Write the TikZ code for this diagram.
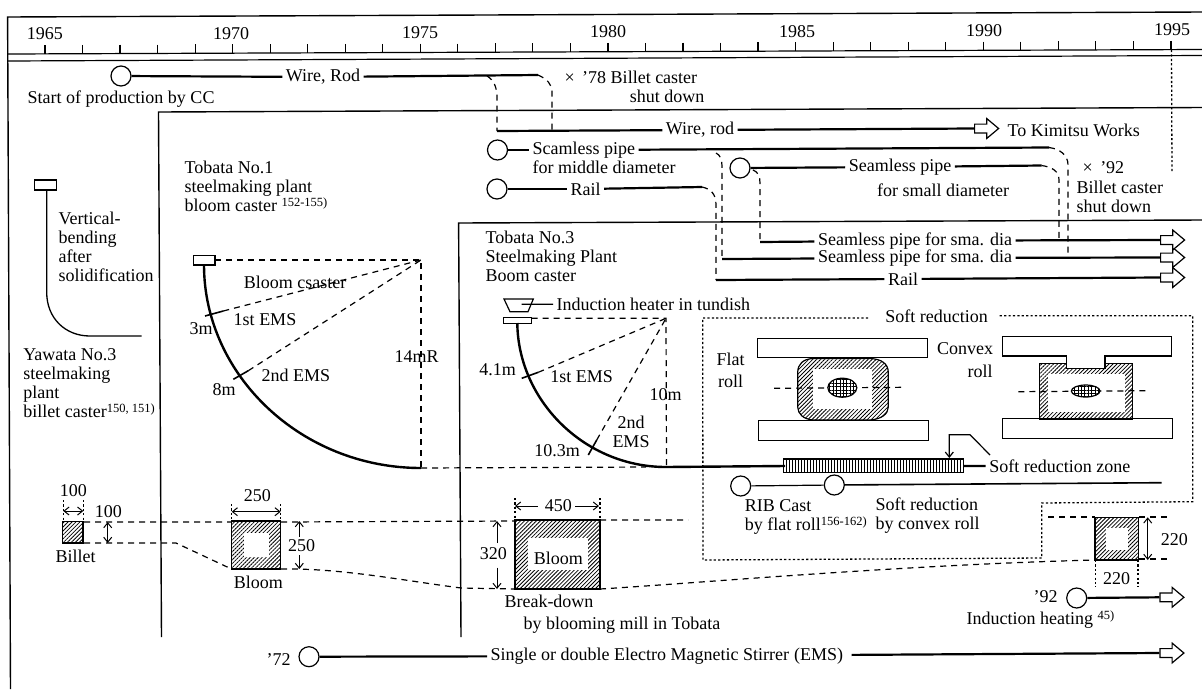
\documentclass[tikz,border=0pt]{standalone}
\usepackage{fontspec}
\setmainfont{Liberation Serif}
\usetikzlibrary{arrows.meta,patterns.meta,shapes.arrows}
\newcommand{\refmark}[1]{\raisebox{5pt}{\fontsize{12.5}{12.5}\selectfont #1}}
\tikzset{
  flow/.style={line width=2.2pt},
  branch/.style={line width=1.2pt,dash pattern=on 6pt off 5pt},
  dotline/.style={line width=1.3pt,dash pattern=on 2.2pt off 2.2pt},
  dimline/.style={line width=1pt},
  startdot/.style={circle,draw,fill=white,line width=1.2pt,minimum size=20pt,inner sep=0pt},
  txt/.style={inner sep=3pt,align=left},
  hollowtip/.style={single arrow,draw,fill=white,line width=1.2pt,anchor=tail,inner xsep=0pt,inner ysep=3.8pt,
    minimum height=24pt,minimum width=19pt,single arrow head extend=5.5pt,single arrow tip angle=80},
  hatched/.style={pattern={Lines[angle=45,distance=2.8pt,line width=0.8pt]}},
  gridfill/.style={pattern={Hatch[angle=0,distance=3.4pt,line width=0.5pt]}}
}
\begin{document}
\begin{tikzpicture}[x=1pt,y=-1pt,line width=1.2pt,>={Straight Barb[length=5pt,width=8pt]},
    font=\fontsize{18}{19}\selectfont]
  \useasboundingbox (0,0) rectangle (1202,689);
  % frame and year axis
  \draw[line width=1.4pt] (1202,12)--(7.6,17)--(10.5,689);
  \draw (7.6,54)--(1202,49.5);
  \draw (7.6,61)--(1202,55.5);
  \foreach \yr in {0,...,30}{
    \pgfmathsetmacro{\tx}{45+37.53*\yr}
    \pgfmathsetmacro{\ty}{54-0.134*\yr}
    \draw (\tx,\ty-9)--(\tx,\ty);
  }
  \foreach \lab/\tx/\ty in {1965/45/34,1970/231/34,1975/420/33,1980/608/32,1985/797/31.5,1990/984/31,1995/1172/30}
    \node[txt] (yr\lab) at (\tx,\ty){\lab};
  % plant boundaries
  \draw[line width=1.4pt] (1202,107.5)--(158.5,112)--(161.5,637);
  \draw[line width=1.4pt] (1202,220)--(458.6,223)--(461,637);
  \coordinate (tickEnd) at (1171.5,50);
  \coordinate (tickFoot) at (1172,173);
  \draw[dotline] (tickEnd)--(tickFoot);
  % wire and rod
  \node[startdot] (wireStart) at (121,76){};
  \node[txt] (wireRodA) at (323,77){Wire, Rod};
  \coordinate (wireEnd) at (538,75);
  \coordinate (wireBranch) at (487,76);
  \coordinate (wireCorner) at (497,131);
  \coordinate (wireFoot) at (552,131);
  \draw[flow] (wireStart)--(wireRodA);
  \draw[flow] (wireRodA)--(wireEnd);
  \node[txt,anchor=west] (billetOffA) at (561,77){× \,’78 Billet caster};
  \node[txt] (billetOffB) at (667,96){shut down};
  \node[txt] (startCC) at (121,98.7){Start of production by CC};
  \draw[branch] (wireBranch) .. controls (494,80) and (497,88) .. (497,97)--(wireCorner);
  \draw[branch] (wireEnd) .. controls (547,79) and (552,84) .. (552,92)--(wireFoot);
  \node[txt] (wireRodB) at (700,130){Wire, rod};
  \node[hollowtip] (kimitsuTip) at (974,128.5){};
  \node[txt,anchor=west] (kimitsuLbl) at (1004,130){To Kimitsu Works};
  \draw[flow] (wireCorner)--(wireRodB);
  \draw[flow] (wireRodB)--(kimitsuTip.tail);
  % seamless pipe, middle diameter
  \node[startdot] (scamStart) at (497.5,150){};
  \node[txt,anchor=west] (scamLbl) at (529,150){Scamless pipe};
  \node[txt,anchor=west] (scamLblB) at (529,167){for middle diameter};
  \coordinate (scamEnd) at (1049,147.5);
  \coordinate (scamBranch) at (716,153);
  \coordinate (scamFootA) at (722,259);
  \coordinate (scamFootB) at (1068,258);
  \draw[flow] (scamStart)--(scamLbl);
  \draw[flow] (scamLbl)--(scamEnd);
  \draw[branch] (scamEnd) .. controls (1060,149) and (1068,155) .. (1068,165)--(scamFootB);
  \draw[branch] (scamBranch) .. controls (720,155) and (722,159) .. (722,166)--(scamFootA);
  \node[txt] (smaLblB) at (915,258){Seamless pipe for sma. dia};
  \node[hollowtip] (smaTipB) at (1160,257.5){};
  \draw[flow] (scamFootA)--(smaLblB);
  \draw[flow] (smaLblB)--(smaTipB.tail);
  % seamless pipe, small diameter
  \node[startdot] (smaStart) at (740,168){};
  \node[txt] (smaLbl) at (900,167){Seamless pipe};
  \node[txt] (smaLblC) at (943,190){for small diameter};
  \coordinate (smaEnd) at (1041.5,165.5);
  \coordinate (smaBranch) at (753,170);
  \coordinate (smaFootA) at (760,242);
  \coordinate (smaFootB) at (1059,241);
  \draw[flow] (smaStart)--(smaLbl);
  \draw[flow] (smaLbl)--(smaEnd);
  \draw[branch] (smaEnd) .. controls (1052,167) and (1059,171) .. (1059,180)--(smaFootB);
  \draw[branch] (smaBranch) .. controls (758,172) and (760,176) .. (760,183)--(smaFootA);
  \node[txt] (smaLblA) at (915,240.7){Seamless pipe for sma. dia};
  \node[hollowtip] (smaTipA) at (1160,240){};
  \draw[flow] (smaFootA)--(smaLblA);
  \draw[flow] (smaLblA)--(smaTipA.tail);
  \node[txt,anchor=west] (shutMark) at (1079,168){× \,’92};
  \node[txt,anchor=west] (shutLbl) at (1073,196.5){Billet caster\\shut down};
  % rail
  \node[startdot] (railStart) at (497,189){};
  \node[txt,anchor=west] (railLbl) at (567,189){Rail};
  \coordinate (railEnd) at (702,187);
  \coordinate (railFoot) at (716,280);
  \draw[flow] (railStart)--(railLbl);
  \draw[flow] (railLbl)--(railEnd);
  \draw[branch] (railEnd) .. controls (711,189) and (716,194) .. (716,205)--(railFoot);
  \node[txt] (railLblB) at (903,279){Rail};
  \node[hollowtip] (railTip) at (1160,277.5){};
  \draw[flow] (railFoot)--(railLblB);
  \draw[flow] (railLblB)--(railTip.tail);
  % Yawata vertical-bending
  \draw[line width=1.3pt] (34.3,180) rectangle (56.7,190);
  \draw[line width=1.3pt] (46.7,190)--(46.7,293) .. controls (47,318) and (65,336) .. (90,336)--(141.7,336);
  \node[txt,anchor=west] (bendLbl) at (55,246.5){Vertical-\\bending\\after\\solidification};
  \node[txt,anchor=west] (yawataLbl) at (19.7,383.5){Yawata No.3\\steelmaking\\plant\\billet caster\refmark{150, 151)}};
  % Tobata No.1 bloom caster
  \node[txt,anchor=west] (tobataA) at (181,186){Tobata No.1\\steelmaking plant\\bloom caster \refmark{152-155)}};
  \draw (193.3,255.7) rectangle (215,265);
  \draw[line width=2.4pt] (204,265) .. controls (204,375) and (301,468) .. (421,468);
  \draw[branch] (215,260)--(421,260)--(421,468);
  \draw[line width=1.6pt] (205,316)--(223.3,311);
  \draw[line width=1.6pt] (233.3,379.3)--(248.3,370.7);
  \draw[branch] (223.3,311)--(421,260);
  \draw[branch] (248.3,370.7)--(421,260);
  \node[txt] (bloomLbl) at (295,282){Bloom csaster};
  \node[txt] (emsA) at (265,320){1st EMS};
  \node[txt] (mThree) at (201,329){3m};
  \node[txt] (emsB) at (296,375.7){2nd EMS};
  \node[txt] (mEight) at (224,390){8m};
  \node[txt] (radA) at (416.7,356.7){14mR};
  \draw[branch] (421,468)--(646,467);
  % Tobata No.3 boom caster
  \node[txt,anchor=west] (tobataB) at (482,256){Tobata No.3\\Steelmaking Plant\\Boom caster};
  \draw (504,299)--(533.3,299)--(528,311.7)--(510,311.7)--cycle;
  \coordinate (heaterEnd) at (521.7,304.3);
  \node[txt,anchor=west] (heaterLbl) at (553,304){Induction heater in tundish};
  \draw (heaterEnd)--(heaterLbl);
  \draw (503.3,317.7) rectangle (531.7,323.3);
  \draw[line width=2.4pt] (517.3,323) .. controls (518,400) and (584,467) .. (666,467)--(785,466);
  \draw[branch] (531.7,318.3)--(666,318.3)--(666.5,467);
  \draw[line width=1.6pt] (521.7,378.3)--(538.3,372.3);
  \draw[line width=1.6pt] (588.3,455)--(596.7,440);
  \draw[branch] (538.3,372.3)--(666,318.3);
  \draw[branch] (596.7,440)--(666,318.3);
  \node[txt] (mFour) at (497.7,369.7){4.1m};
  \node[txt] (emsC) at (581.7,377){1st EMS};
  \node[txt] (radB) at (665.7,395){10m};
  \node[txt,align=center] (emsD) at (631,432){2nd\\EMS};
  \node[txt] (mTen) at (557,450.7){10.3m};
  % soft reduction box
  \node[txt] (softLbl) at (936.7,316.7){Soft reduction};
  \coordinate (softTopL) at (868,318);
  \coordinate (softTopR) at (998,315.7);
  \draw[dotline] (softTopL)--(702.7,318)--(703,560)--(1041.7,558)--(1041.7,503)--(1192.7,501.7)--(1192.7,315.7)--(softTopR);
  % flat roll
  \node[txt,align=center] (flatLbl) at (730.7,370){Flat\\[3pt]roll};
  \draw (757.7,338.3) rectangle (927.7,357.3);
  \draw (758.3,420.7) rectangle (928.7,440.7);
  \draw[hatched] (813,358.5)--(870,358.5) .. controls (882,359) and (888,364) .. (888.3,372)--(888.3,407) .. controls (888,414) and (882,419) .. (870,420)--(813,420) .. controls (803,419) and (798,414) .. (797.7,407)--(797.7,372) .. controls (798,364) and (803,359) .. (813,358.5)--cycle;
  \fill[white] (813.3,369.3) rectangle (872.3,409.3);
  \draw[branch] (774,388.3)--(904,387.3);
  \draw[fill=white] (842.3,387.7) ellipse [x radius=14.5,y radius=9.5];
  \path[gridfill] (842.3,387.7) ellipse [x radius=14.5,y radius=9.5];
  % convex roll
  \node[txt] (convexLbl) at (965,349){Convex};
  \node[txt] (convexLblB) at (980,371.7){roll};
  \draw (1002.3,336.7)--(1171.7,336.7)--(1171.7,356)--(1105,356)--(1105,368.3)--(1066.7,368.3)--(1066.7,356)--(1002.3,356)--cycle;
  \draw[hatched] (1039.3,363.3)--(1066.7,363.3)--(1066.7,368.3)--(1105,368.3)--(1105,363.3)--(1132.7,363.3)--(1132.7,419)--(1039.3,419)--cycle;
  \fill[white] (1048.3,374)--(1125,374)--(1125,411.7)--(1048.3,411.7)--cycle;
  \draw (1002.7,418.7) rectangle (1172.7,438.7);
  \draw[branch] (1018.3,391.7)--(1148.3,390.7);
  \draw[fill=white] (1085.7,391) ellipse [x radius=14.3,y radius=6];
  \path[gridfill] (1085.7,391) ellipse [x radius=14.3,y radius=6];
  % soft reduction zone
  \node[draw,minimum width=180pt,minimum height=13.7pt,inner sep=0pt,pattern={Lines[angle=90,distance=3pt,line width=0.8pt]}] (softBlock) at (873.3,465.8){};
  \node[txt,anchor=west] (softZone) at (985.7,466){Soft reduction zone};
  \draw[flow] (softBlock)--(softZone);
  \coordinate (softCall) at (990,455);
  \draw[->] (softCall)--(970,434.7)--(949.3,434.7)--(949.3,458);
  \node[startdot] (ribStart) at (740.7,486){};
  \node[startdot] (convexStart) at (834.3,485){};
  \coordinate (convexEnd) at (1161.7,482.7);
  \draw (ribStart)--(convexStart);
  \draw[line width=1.6pt] (convexStart)--(convexEnd);
  \node[txt,anchor=west] (ribLbl) at (741.3,516.7){RIB Cast\\by flat roll\refmark{156-162)}};
  \node[txt,anchor=west] (softConvex) at (872,515.4){Soft reduction\\by convex roll};
  % sections with dimensions
  \draw[hatched] (62.7,521.7) rectangle (83.3,543);
  \draw[line width=1.8pt] (83.3,521.7)--(83.3,543);
  \node[txt] (widthA) at (73.3,491){100};
  \node[txt] (heightA) at (108.3,511.7){100};
  \node[txt] (billetLbl) at (75.7,556){Billet};
  \draw[dotline] (63.3,500)--(63.3,521) (83.3,500)--(83.3,521);
  \draw[<->,dimline] (63.3,511)--(83.3,511);
  \draw[<->,dimline] (107.7,522)--(107.7,543);
  \draw[hatched] (231.7,521) rectangle (280.7,569);
  \fill[white] (244,533.3) rectangle (269.3,557.3);
  \node[txt] (widthB) at (257.3,496){250};
  \node[txt] (heightB) at (301.7,546){250};
  \node[txt] (bloomSec) at (258.3,582.7){Bloom};
  \draw[dotline] (231.7,504)--(231.7,521) (280.7,504)--(280.7,521);
  \draw[<->,dimline] (231.7,511.7)--(280.7,511.7);
  \draw[->,dimline] (299.3,536.7)--(299.3,521);
  \draw[->,dimline] (299.3,555)--(299.3,569);
  \draw[hatched] (515,520) rectangle (600,589);
  \fill[white] (527.7,537.7) rectangle (588.3,570);
  \node[txt] (bloomIn) at (558.3,558.3){Bloom};
  \node[txt] (widthC) at (558.3,506){450};
  \node[txt] (heightC) at (493.3,554){320};
  \node[txt] (breakA) at (549,601){Break-down};
  \node[txt,anchor=west] (breakB) at (520,625){by blooming mill in Tobata};
  \draw[dotline] (515,498)--(515,520) (600,498)--(600,520);
  \draw[<-,dimline] (515,506)--(538,506);
  \draw[->,dimline] (575,506)--(599,506);
  \draw[->,dimline] (497,543)--(497,521);
  \draw[->,dimline] (497,567.7)--(497,589);
  \draw[hatched] (1095,517.3) rectangle (1138.7,560);
  \fill[white] (1105.7,527.7) rectangle (1128.3,550);
  \node[txt] (heightD) at (1174.3,540){220};
  \node[txt] (widthD) at (1116.7,578.3){220};
  \draw[dotline] (1095.3,560)--(1095.3,586.7) (1138,560)--(1138,586.7);
  \draw[<->,dimline] (1147.7,517.3)--(1147.7,560);
  \draw[branch] (84,522)--(232,522) (281,522)--(515,521) (600,520)--(688,520);
  \draw[branch] (84,543)--(176,543)--(230,568.3);
  \draw[branch] (281,569) .. controls (340,568) and (400,580) .. (461,588)--(515,589);
  \draw[branch] (600,589) .. controls (700,583) and (900,565) .. (1095,560);
  \draw[branch] (1048,517)--(1095,517) (1139,517)--(1170,517) (1139,559)--(1168,559);
  % induction heating
  \node[txt] (yrNinetyTwo) at (1045.7,596.7){’92};
  \node[startdot] (heatStart) at (1076.7,598){};
  \node[hollowtip] (heatTip) at (1159.3,597.3){};
  \draw[flow] (heatStart)--(heatTip.tail);
  \node[txt,anchor=west] (heatLbl) at (963,620){Induction heating \refmark{45)}};
  % electro magnetic stirrer
  \node[txt] (yrSeventyTwo) at (278.7,660){’72};
  \node[startdot] (emsStart) at (309,656.7){};
  \node[txt,anchor=west] (emsLbl) at (487,656){Single or double Electro Magnetic Stirrer\hspace{5pt}(EMS)\hspace*{5pt}};
  \node[hollowtip] (emsTip) at (1159.3,653){};
  \draw[flow] (emsStart)--(emsLbl);
  \draw[flow] (emsLbl)--(emsTip.tail);
\end{tikzpicture}
\end{document}
